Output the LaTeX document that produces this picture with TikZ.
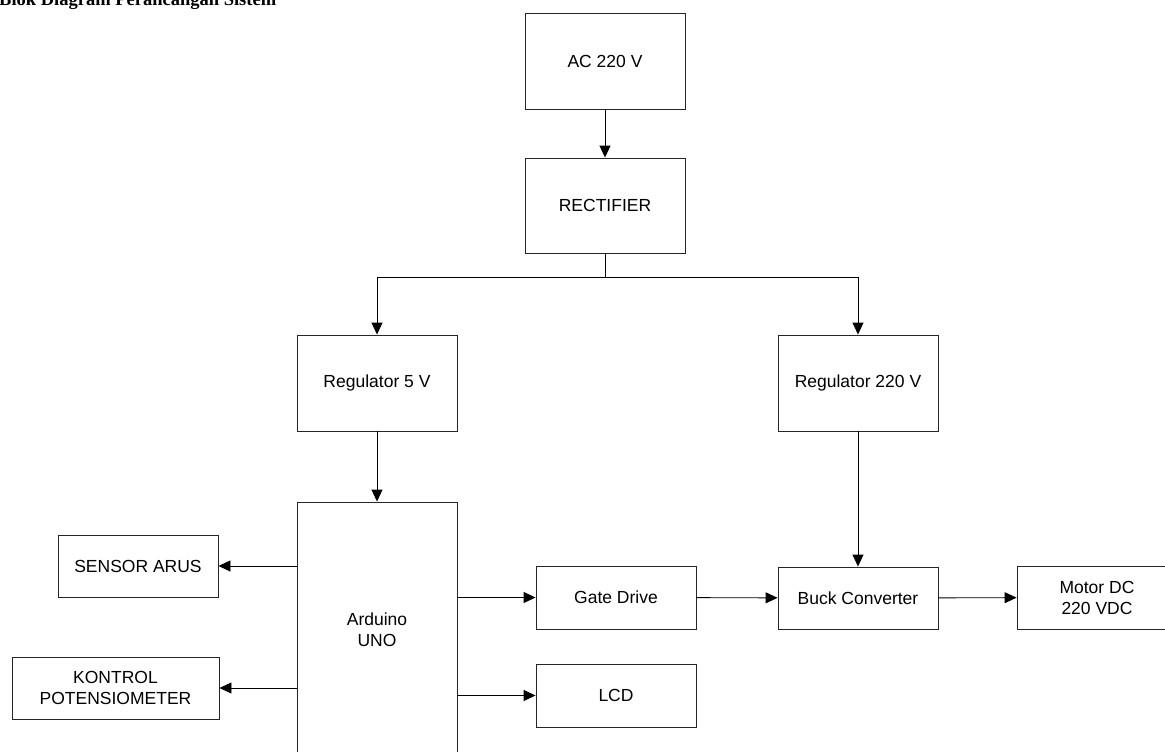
\documentclass[tikz,border=0pt]{standalone}
\usepackage{fontspec}
\setmainfont{Liberation Sans}
\newfontfamily\titlefont{Liberation Serif}
\usetikzlibrary{arrows.meta}
\begin{document}
\begin{tikzpicture}[x=1pt,y=-1pt,
  blok/.style={draw=black!85,line width=0.9pt,minimum width=160pt,inner sep=0pt,
    align=center,font=\fontsize{17.5}{21}\selectfont},
  arr/.style={draw=black,line width=0.9pt,-{Triangle[length=12pt,width=11pt]}},
  ln/.style={draw=black,line width=0.9pt}]
\clip (0,0) rectangle (1165,752);
\fill[white] (0,0) rectangle (1165,752);
\node[anchor=base west,inner sep=0pt,font=\titlefont\bfseries\fontsize{18.5}{22}\selectfont] (title) at (-1,6) {Blok Diagram Perancangan Sistem};
\node[blok,minimum height=96pt] (ac) at (605,61) {AC 220 V};
\node[blok,minimum height=95pt] (rect) at (605,205.5) {RECTIFIER};
\node[blok,minimum height=96pt] (reg5) at (377,383) {Regulator 5 V};
\node[blok,minimum height=96pt] (reg220) at (858,383) {Regulator 220 V};
\node[blok,minimum height=256pt] (ard) at (377,630) {Arduino\\UNO};
\node[blok,minimum height=62pt] (sensor) at (138,566) {SENSOR ARUS};
\node[blok,minimum width=207pt,minimum height=62pt] (kontrol) at (115.5,688) {KONTROL\\POTENSIOMETER};
\node[blok,minimum height=63pt] (gate) at (616,597.5) {Gate Drive};
\node[blok,minimum height=63pt] (lcd) at (616,695.5) {LCD};
\node[blok,minimum height=62pt] (buck) at (858,598) {Buck Converter};
\node[blok,minimum height=63pt] (motor) at (1097,597.5) {Motor DC\\220 VDC};
\coordinate (br) at (605,277);
\draw[arr] (ac) -- (rect);
\draw[ln] (rect.south) -- (br);
\draw[arr] (br) -| (reg5.north);
\draw[arr] (br) -| (reg220.north);
\draw[arr] (reg5) -- (ard.north);
\draw[arr] (reg220) -- (buck);
\draw[arr] (sensor.east -| ard.west) -- (sensor.east);
\draw[arr] (kontrol.east -| ard.west) -- (kontrol.east);
\draw[arr] (gate.west -| ard.east) -- (gate.west);
\draw[arr] (lcd.west -| ard.east) -- (lcd.west);
\draw[arr] (gate) -- (buck);
\draw[arr] (buck) -- (motor);
\end{tikzpicture}
\end{document}
